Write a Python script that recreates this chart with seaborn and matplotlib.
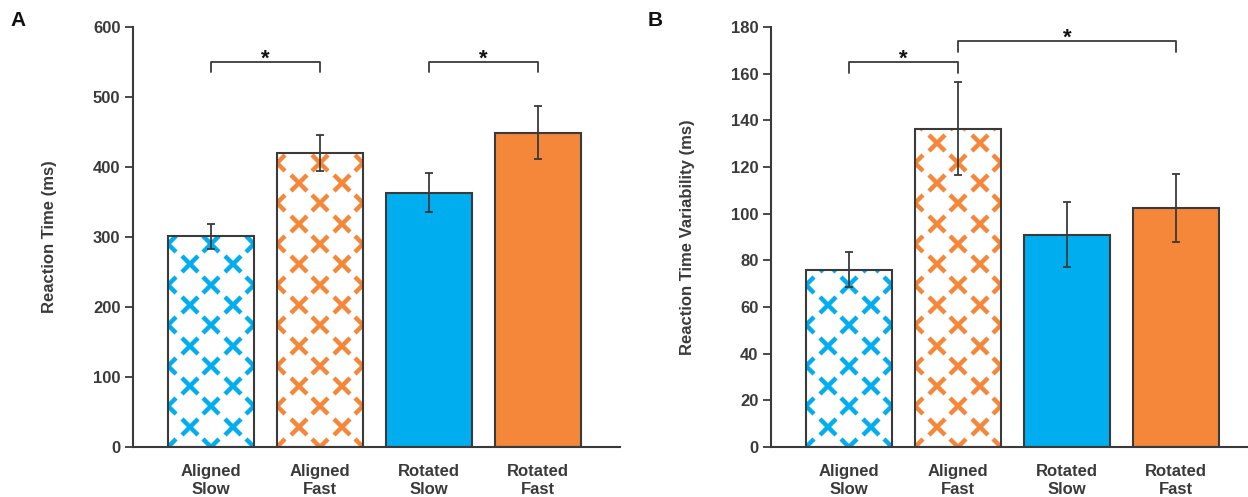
import matplotlib
matplotlib.use("Agg")
import matplotlib.pyplot as plt
import seaborn as sns
import numpy as np

# ---------------- data ----------------
categories = ["Aligned\nSlow", "Aligned\nFast", "Rotated\nSlow", "Rotated\nFast"]
rt_mean = [301, 420, 363, 449]
rt_err = [18, 26, 28, 38]
rtv_mean = [76, 136.5, 91, 102.5]
rtv_err = [7.5, 20, 14, 14.5]
hatched = [True, True, False, False]
colors = ["#00AEEF", "#F4873A", "#00AEEF", "#F4873A"]

# significance brackets: (left cat, right cat, bar height, tick bottom)
rt_brackets = [(0, 1, 550, 536), (2, 3, 550, 536)]
rtv_brackets = [(0, 1, 165, 160.5), (1, 3, 174, 169.5)]

rt_yticks = [0, 100, 200, 300, 400, 500, 600]
rtv_yticks = [0, 20, 40, 60, 80, 100, 120, 140, 160, 180]

sns.set_theme(style="ticks")
plt.rcParams["font.family"] = ["Liberation Sans"]
FS = 12

DARK = "#3a3a3a"
fig = plt.figure(figsize=(12.48, 4.97), dpi=100)
axA = fig.add_axes([133 / 1248, 50 / 497, (620 - 133) / 1248, 420 / 497])
axB = fig.add_axes([771 / 1248, 50 / 497, (1248 - 771) / 1248, 420 / 497])


def panel(ax, means, errs, yticks, ylabel, brackets, letter, letter_x):
    sns.barplot(x=categories, y=means, hue=categories, palette=colors, legend=False,
                edgecolor=DARK, linewidth=1.5, width=0.79, ax=ax, saturation=1)
    ymax = yticks[-1]
    ax.set_ylim(0, ymax)
    ax.set_xlim(-0.716, 3.75 if letter == "A" else 3.66)
    fig.canvas.draw()
    # X-pattern for hatched bars
    px_per_unit = ax.transData.transform((0, 1))[1] - ax.transData.transform((0, 0))[1]
    step = 20.3 / px_per_unit
    for patch, h, c in zip(ax.patches, hatched, colors):
        if not h:
            continue
        patch.set_facecolor("none")
        x0, w, top = patch.get_x(), patch.get_width(), patch.get_height()
        k = 0
        y = 0.0
        while y < top + step:
            if k % 2 == 0:
                xs = [x0, x0 + w / 2, x0 + w]
            else:
                xs = [x0 + w / 4, x0 + 3 * w / 4]
            ln, = ax.plot(xs, [y] * len(xs), linestyle="none", marker="x",
                          ms=11, mew=3.2, color=c, zorder=0.9)
            ln.set_clip_path(patch)
            k += 1
            y += step
    ax.errorbar(range(len(means)), means, yerr=errs, fmt="none", ecolor=DARK,
                elinewidth=1.3, capsize=2.8, capthick=1.3, zorder=5)
    for (a, b, yb, yt) in brackets:
        ax.plot([a, a, b, b], [yt, yb, yb, yt], color=DARK, lw=1.3, clip_on=False)
        ax.text((a + b) / 2, yb - 3 / px_per_unit, "*", ha="center", va="baseline",
                fontsize=16, fontweight="bold", color="#111111")
    ax.set_yticks(yticks)
    ax.set_yticklabels([str(t) for t in yticks], fontsize=FS, fontweight="bold", color=DARK)
    ax.set_xticks(range(len(categories)))
    ax.set_xticklabels(categories, fontsize=FS, fontweight="bold", color=DARK, linespacing=1.3)
    ax.tick_params(axis="x", length=0, pad=12)
    ax.tick_params(axis="y", length=6, width=1.3, color=DARK, pad=3)
    ax.set_ylabel(ylabel, fontsize=FS, fontweight="bold", color=DARK, labelpad=26)
    ax.set_xlabel("")
    sns.despine(ax=ax)
    for s in ("left", "bottom"):
        ax.spines[s].set_color(DARK)
        ax.spines[s].set_linewidth(1.5)
    fig.text(letter_x / 1248, 1 - 20 / 497, letter, fontsize=FS + 3, fontweight="bold",
             color="#111111", ha="left", va="center")


panel(axA, rt_mean, rt_err, rt_yticks, "Reaction Time (ms)", rt_brackets, "A", 10)
panel(axB, rtv_mean, rtv_err, rtv_yticks, "Reaction Time Variability (ms)", rtv_brackets, "B", 648)

fig.savefig("out.png", dpi=100, facecolor="white")
